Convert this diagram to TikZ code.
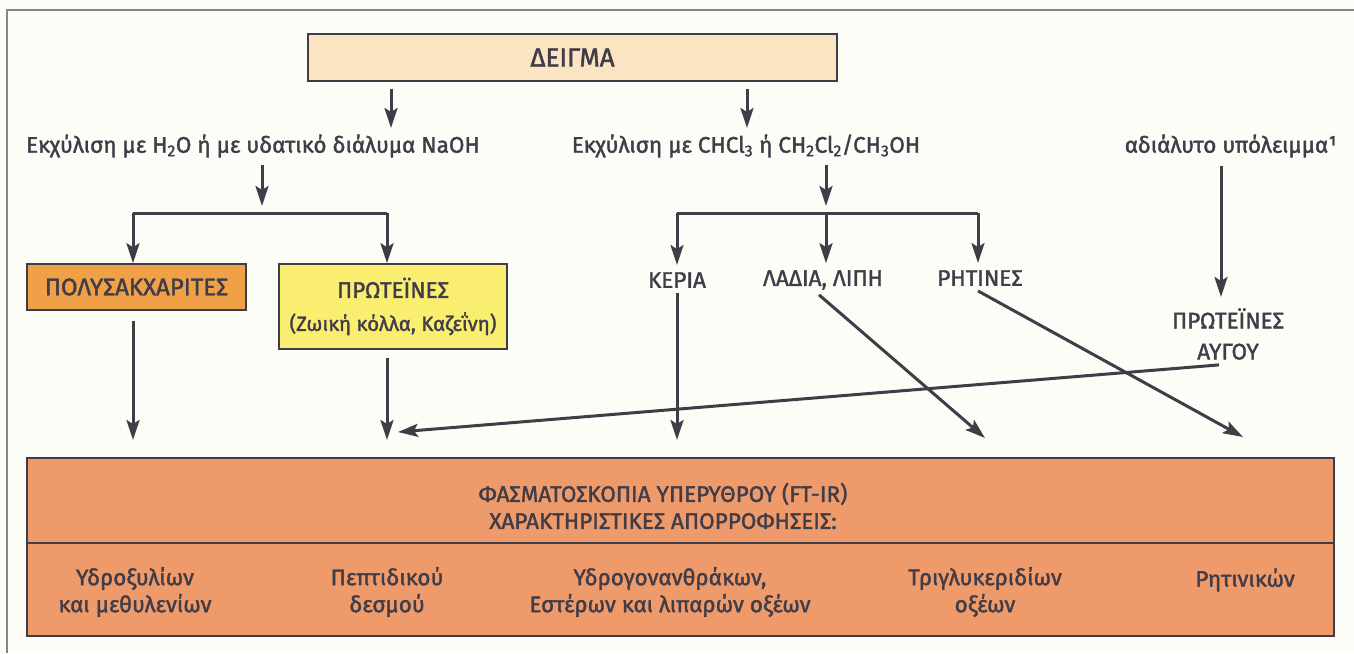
\documentclass[tikz,border=0pt]{standalone}
\usepackage{fontspec}
\setmainfont{Fira Sans}
\newfontfamily\medium{Fira Sans}[FakeBold=1.6]
\usetikzlibrary{arrows.meta,calc}
\definecolor{ink}{HTML}{403C48}
\definecolor{paper}{HTML}{FDFDF8}
\definecolor{beige}{HTML}{FAE4C2}
\definecolor{orangebox}{HTML}{F0A046}
\definecolor{yellowbox}{HTML}{F9EE70}
\definecolor{salmon}{HTML}{EE9A6A}
\definecolor{framegray}{HTML}{858585}
\begin{document}
\begin{tikzpicture}[x=1pt,y=-1pt,
  font=\medium\fontsize{22.5}{27}\selectfont,
  arr/.style={draw=ink, line width=3pt, -{Stealth[length=20pt,width=13pt,inset=4pt]}},
  bar/.style={draw=ink, line width=3pt},
  box/.style={draw=ink, line width=1.5pt, inner sep=0pt, text=ink, align=center},
  lbl/.style={inner sep=0pt, text=ink, align=center}]
% page and frame
\fill[paper] (0,0) rectangle (1354,653);
\useasboundingbox (0,0) rectangle (1354,653);
\draw[framegray, line width=1.2pt] (7,653) -- (7,10) -- (1354,10);

% top box
\node[box, fill=beige, minimum width=529pt, minimum height=47pt] (deigma) at (572.5,57.5) {\fontsize{26}{30}\selectfont ΔΕΙΓΜΑ};

% extraction steps
\node[lbl] (ex1) at (253,146) {Εκχύλιση με H\textsubscript{2}O ή με υδατικό διάλυμα NaOH};
\node[lbl] (ex2) at (746,146) {Εκχύλιση με CHCl\textsubscript{3} ή CH\textsubscript{2}Cl\textsubscript{2}/CH\textsubscript{3}OH};
\node[lbl] (res) at (1231,146) {αδιάλυτο υπόλειμμα¹};

\coordinate (a1) at (391,128);
\coordinate (a2) at (747,128);
\draw[arr] ([yshift=-7pt]deigma.south -| a1) -- (a1);
\draw[arr] ([yshift=-7pt]deigma.south -| a2) -- (a2);

% water-soluble branch
\node[box, fill=orangebox, minimum width=219pt, minimum height=46pt] (poly) at (136.5,287) {\fontsize{24}{28}\selectfont ΠΟΛΥΣΑΚΧΑΡΙΤΕΣ};
\node[box, fill=yellowbox, minimum width=228pt, minimum height=85pt] (prot) at (393,306.5)
  {ΠΡΩΤΕΪΝΕΣ\\[6pt]{\fontsize{20.5}{24}\selectfont (Ζωική κόλλα, Καζεΐνη)}};

\coordinate (b1) at (262,206);
\coordinate (b1l) at (133,213);
\coordinate (b1r) at (387,213);
\draw[arr] ([yshift=-7pt]ex1.south -| b1) -- (b1);
\draw[bar] (b1l) -- (b1r);
\draw[arr] (b1l) -- (poly.north -| b1l);
\draw[arr] (b1r) -- (prot.north -| b1r);

% solvent-soluble branch
\node[lbl] (kepia) at (677,280) {ΚΕΡΙΑ};
\node[lbl] (ladia) at (823,280) {ΛΑΔΙΑ, ΛΙΠΗ};
\node[lbl] (rhtines) at (980,278) {ΡΗΤΙΝΕΣ};

\coordinate (b2) at (826,206);
\coordinate (b2l) at (677,213);
\coordinate (b2m) at (826,213);
\coordinate (b2r) at (978,213);
\draw[arr] ([yshift=-7pt]ex2.south -| b2) -- (b2);
\draw[bar] (b2l) -- (b2r);
\draw[arr] (b2l) -- ([yshift=7pt]kepia.north -| b2l);
\draw[arr] (b2m) -- ([yshift=7pt]ladia.north -| b2m);
\draw[arr] (b2r) -- ([yshift=7pt]rhtines.north -| b2r);

% insoluble residue
\node[lbl, font=\medium\fontsize{22.5}{31}\selectfont] (egg) at (1228,334) {ΠΡΩΤΕΪΝΕΣ\\ΑΥΓΟΥ};
\coordinate (r1) at (1221,297);
\draw[arr] ([yshift=-8pt]res.south -| r1) -- (r1);

% spectroscopy panel
\node[box, fill=salmon, minimum width=1307pt, minimum height=178pt] (ftir) at (680.5,547) {};
\coordinate (div) at (0,543);
\draw[ink, line width=1.5pt] (ftir.west |- div) -- (ftir.east |- div);
\node[lbl] (title) at (663,506) {ΦΑΣΜΑΤΟΣΚΟΠΙΑ ΥΠΕΡΥΘΡΟΥ (FT-IR)\\ΧΑΡΑΚΤΗΡΙΣΤΙΚΕΣ ΑΠΟΡΡΟΦΗΣΕΙΣ:};

\node[lbl] (f1) at (135,592) {Υδροξυλίων\\και μεθυλενίων};
\node[lbl] (f2) at (387,592) {Πεπτιδικού\\δεσμού};
\node[lbl] (f3) at (670,592) {Υδρογονανθράκων,\\Εστέρων και λιπαρών οξέων};
\node[lbl] (f4) at (985,592) {Τριγλυκεριδίων\\οξέων};
\node[lbl] (f5) at (1245,580) {Ρητινικών};

% arrows into the panel
\coordinate (t1) at (133,440);
\coordinate (t2) at (387,440);
\coordinate (t3) at (677,440);
\coordinate (t4) at (985,438);
\coordinate (t5) at (1243,437);
\coordinate (t6) at (398,432);
\draw[arr] ([yshift=-10pt]poly.south -| t1) -- (t1);
\draw[arr] ([yshift=-8pt]prot.south -| t2) -- (t2);
\draw[arr] ([yshift=-5pt]kepia.south -| t3) -- (t3);
\draw[arr] ([xshift=-4pt,yshift=-5pt]ladia.south) -- (t4);
\draw[arr] ([xshift=-2pt,yshift=-5pt]rhtines.south) -- (t5);
\draw[arr] ([xshift=-9pt,yshift=-5pt]egg.south) -- (t6);
\end{tikzpicture}
\end{document}
